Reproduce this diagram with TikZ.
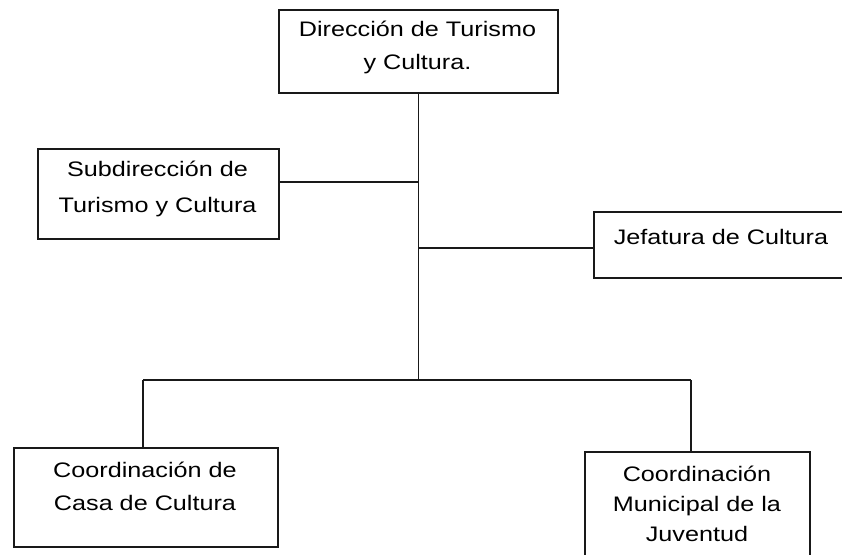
\documentclass[tikz,border=0pt]{standalone}
\usepackage{fontspec}
\setmainfont[FakeStretch=1.2]{Liberation Sans}
\usepackage{tikz}
\tikzset{
    caja/.style={draw=black!90,line width=1.5pt,rectangle,inner sep=0pt,anchor=north west},
    rotulo/.style={align=center,inner sep=0pt,text=black,font=\fontsize{21}{33}\selectfont},
    enlace/.style={draw=black!90,line width=1.5pt}
}
\begin{document}
\begin{tikzpicture}[x=1pt,y=-1pt]
\useasboundingbox (0,0) rectangle (842,554);
% cajas
\node[caja,minimum width=279pt,minimum height=83pt](dir) at (278,9){};
\node[caja,minimum width=241pt,minimum height=90pt](sub) at (37,148){};
\node[caja,minimum width=256pt,minimum height=66pt](jef) at (593,211){};
\node[caja,minimum width=264pt,minimum height=99pt](casa) at (13,447){};
\node[caja,minimum width=225pt,minimum height=115pt](juv) at (584,451){};
% textos
\node[rotulo](tdir) at (417.5,47){Dirección de Turismo\\y Cultura.};
\node[rotulo,font=\fontsize{21}{36}\selectfont](tsub) at (157.5,189){Subdirección de\\Turismo y Cultura};
\node[rotulo](tjef) at (721,237){Jefatura de Cultura};
\node[rotulo](tcasa) at (145,486){Coordinación de\\Casa de Cultura};
\node[rotulo,font=\fontsize{21}{30}\selectfont](tjuv) at (697,504){Coordinación\\Municipal de la\\Juventud};
% lineas
\coordinate (psub) at (dir.south |- 0,182);
\coordinate (pjef) at (dir.south |- 0,248);
\coordinate (pbar) at (dir.south |- 0,380);
\coordinate (pcasa) at (143,380);
\coordinate (pjuv) at (691,380);
\draw[enlace](dir.south)--(pbar);
\draw[enlace](psub)--(psub -| sub.east);
\draw[enlace](pjef)--(pjef -| jef.west);
\draw[enlace](pcasa)--(pjuv);
\draw[enlace](pcasa)--(pcasa |- casa.north);
\draw[enlace](pjuv)--(pjuv |- juv.north);
\end{tikzpicture}
\end{document}
